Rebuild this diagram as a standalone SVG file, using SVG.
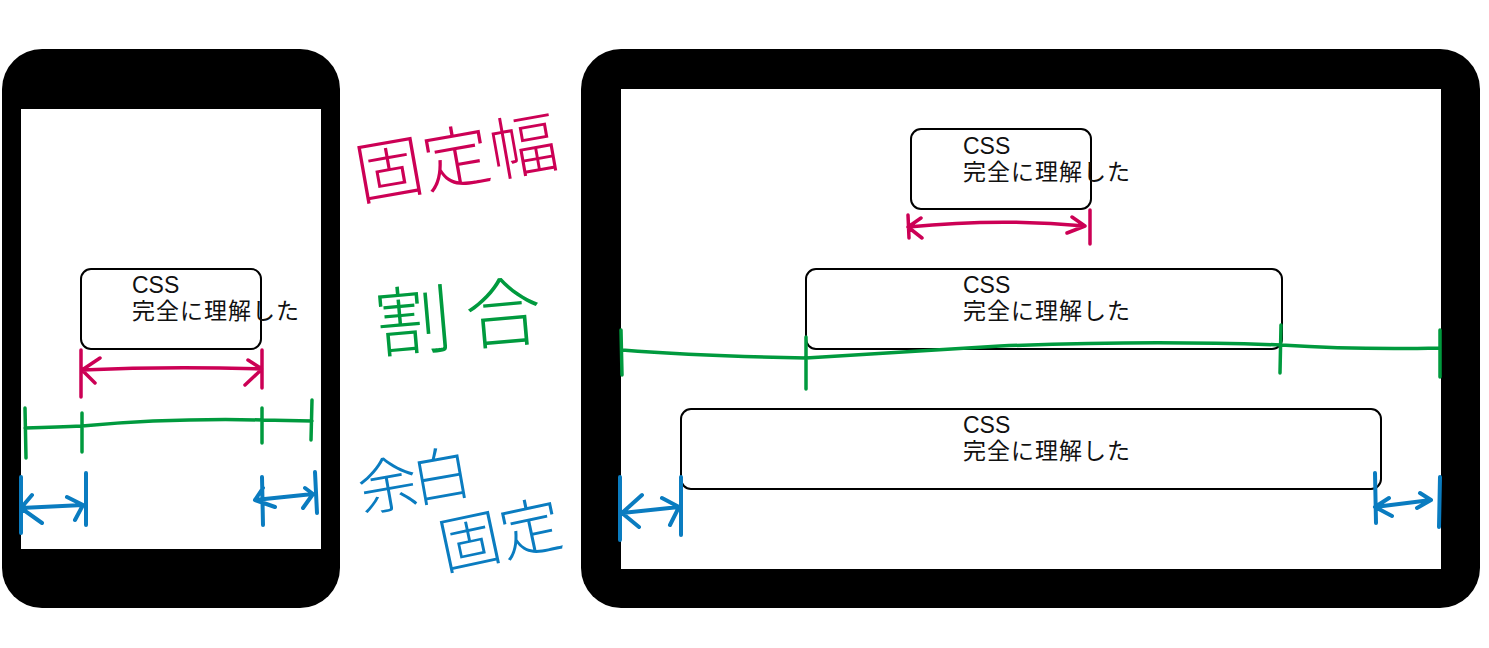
<svg xmlns="http://www.w3.org/2000/svg" width="1489" height="648" viewBox="0 0 1489 648">
<style>
.dev{fill:#000}
.scr{fill:#fff}
.box{fill:#fff;stroke:#000;stroke-width:2}
.t{font-family:"Liberation Sans","Noto Sans CJK JP",sans-serif;font-size:23px;fill:#111}
.j{letter-spacing:1px}
.hw{font-family:"Noto Sans CJK JP",sans-serif;font-weight:300}
.r{fill:none;stroke:#cc0055;stroke-width:3.5;stroke-linecap:round;stroke-linejoin:round}
.g{fill:none;stroke:#009a3e;stroke-width:3.5;stroke-linecap:round;stroke-linejoin:round}
.b{fill:none;stroke:#0a7cc0;stroke-width:4;stroke-linecap:round;stroke-linejoin:round}
</style>
<rect width="1489" height="648" fill="#fff"/>
<g id="phone">
<rect class="dev" x="2" y="49" width="338" height="559" rx="40"/>
<rect class="scr" x="21" y="109" width="300" height="440"/>
</g>
<g id="tablet">
<rect class="dev" x="581" y="49" width="899" height="559" rx="40"/>
<rect class="scr" x="621" y="89" width="820" height="480"/>
</g>
<g id="phone-box">
<rect class="box" x="81" y="269" width="180" height="80" rx="10"/>
<text class="t" x="132" y="293">CSS</text>
<text class="t j" x="132" y="319">完全に理解した</text>
</g>
<g id="tablet-box-fixed">
<rect class="box" x="911" y="129" width="180" height="80" rx="10"/>
<text class="t" x="963" y="154">CSS</text>
<text class="t j" x="963" y="180">完全に理解した</text>
</g>
<g id="tablet-box-ratio">
<rect class="box" x="806" y="269" width="476" height="80" rx="10"/>
<text class="t" x="963" y="293">CSS</text>
<text class="t j" x="963" y="319">完全に理解した</text>
</g>
<g id="tablet-box-margin">
<rect class="box" x="681" y="409" width="700" height="80" rx="10"/>
<text class="t" x="963" y="433">CSS</text>
<text class="t j" x="963" y="459">完全に理解した</text>
</g>
<g id="labels">
<text class="hw" x="360" y="200" font-size="68" fill="#cc0055" transform="rotate(-10 360 200)">固定幅</text>
<text class="hw" x="378" y="352" font-size="76" fill="#009a3e" letter-spacing="14" transform="rotate(-5 378 352)">割合</text>
<text class="hw" x="362" y="512" font-size="60" fill="#0a7cc0" letter-spacing="-6" transform="rotate(-10 362 512)">余白</text>
<text class="hw" x="444" y="570" font-size="62" fill="#0a7cc0" transform="rotate(-12 444 570)">固定</text>
</g>
<g id="connectors">
<path class="r" d="M81 350 L81 397 M262 350 L262 388 M82 370 Q170 366 262 369 M82 370 L100 358 M82 370 L95 383 M262 369 L248 360 M262 369 L245 385"/>
<path class="g" d="M25 428 Q60 427 82 426 Q170 418 262 420 L312 421 M25 408 L26 458 M82 413 L82 452 M262 408 L262 443 M312 400 L311 440"/>
<path class="b" d="M21 477 L21 533 M86 473 L86 525 M21 508 L83 505 M21 508 L32 495 M21 508 L42 523 M83 505 L67 497 M83 505 L75 520"/>
<path class="b" d="M262 477 L263 525 M315 472 L317 513 M255 500 L313 494 M255 500 L263 488 M255 500 L275 507 M313 494 L305 488 M313 494 L303 508"/>
<path class="r" d="M908 215 L909 238 M1090 210 L1090 244 M908 227 Q1000 218 1085 226 M908 227 L921 218 M908 227 L922 238 M1085 226 L1072 217 M1085 226 L1067 233"/>
<path class="g" d="M622 350 Q700 356 806 358 Q900 352 1000 346 Q1150 340 1281 345 Q1360 350 1440 348 M621 330 L622 375 M806 337 L806 389 M1281 325 L1280 373 M1440 330 L1440 377"/>
<path class="b" d="M620 477 L620 540 M681 477 L681 535 M622 513 L679 507 M622 513 L642 495 M622 513 L639 527 M679 507 L662 498 M679 507 L670 525"/>
<path class="b" d="M1375 473 L1376 523 M1440 477 L1439 527 M1375 507 L1431 500 M1375 507 L1389 498 M1375 507 L1392 516 M1431 500 L1420 493 M1431 500 L1417 508"/>
</g>
</svg>
